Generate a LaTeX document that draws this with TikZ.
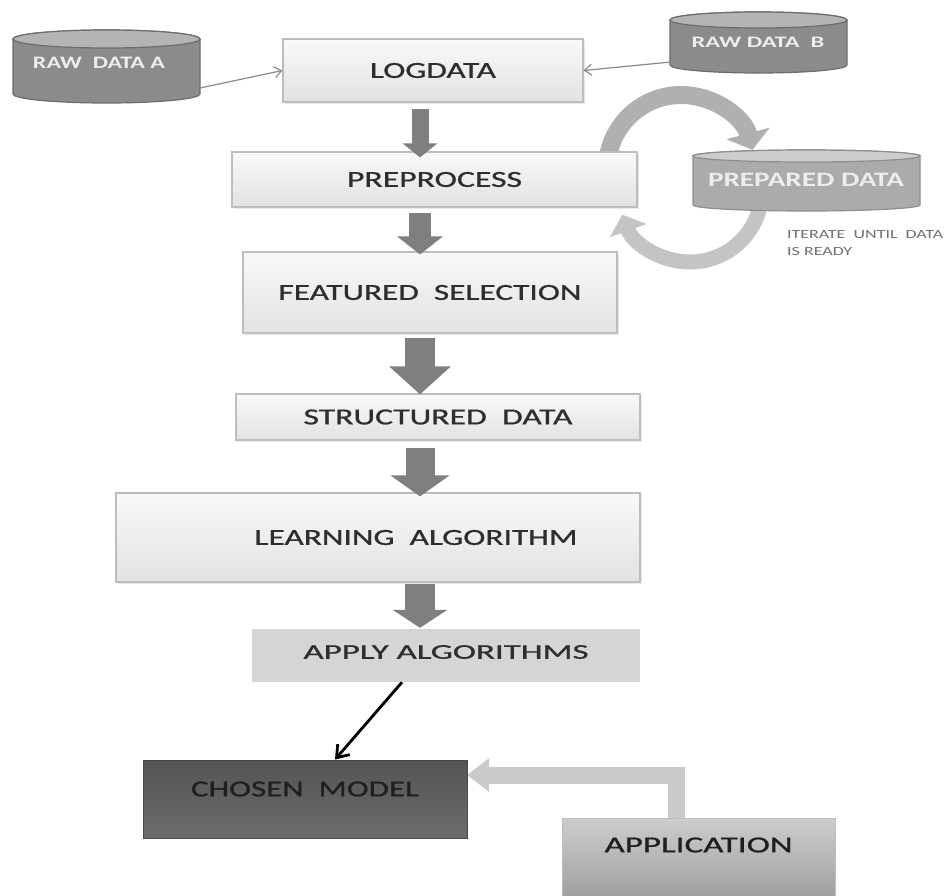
\documentclass[tikz,border=0pt]{standalone}
\usepackage{fontspec}
\setmainfont{Carlito}
\newfontfamily\heavyfont[FakeBold=0.7]{Carlito}
\usepackage{graphicx}
\usetikzlibrary{arrows.meta,shadows}

\definecolor{boxline}{HTML}{BDBDBD}
\definecolor{boxtop}{HTML}{F9F9F9}
\definecolor{boxbot}{HTML}{E2E2E2}
\definecolor{txtdark}{HTML}{2E2E2E}
\definecolor{blockgray}{HTML}{7F7F7F}
\definecolor{rawbody}{HTML}{8B8B8B}
\definecolor{rawtop}{HTML}{B4B4B4}
\definecolor{rawline}{HTML}{6C6C6C}
\definecolor{prepbody}{HTML}{ABABAB}
\definecolor{preptop}{HTML}{CDCDCD}
\definecolor{prepline}{HTML}{8E8E8E}
\definecolor{loopdark}{HTML}{B0B0B0}
\definecolor{looplight}{HTML}{C4C4C4}
\definecolor{applyfill}{HTML}{D5D5D5}
\definecolor{chosentop}{HTML}{545454}
\definecolor{chosenbot}{HTML}{6C6C6C}
\definecolor{chosenline}{HTML}{4A4A4A}
\definecolor{apptop}{HTML}{CDCDCD}
\definecolor{appbot}{HTML}{9B9B9B}
\definecolor{useline}{HTML}{CACACA}
\definecolor{thinline}{HTML}{8A8A8A}
\definecolor{itertext}{HTML}{707070}
\definecolor{cyltext}{HTML}{EDEDED}

% set a text to a given width, keeping its height
\newcommand\fitw[2]{\resizebox{#1pt}{\height}{#2}}
% move a text up without changing its box
\newcommand\lift[2]{\raisebox{#1pt}[\height][\depth]{#2}}
% cylinder: left, right, top, bottom, end radius, body, end, outline
\newcommand\drum[8]{%
  \path[draw=#8, fill=#6, line width=1.2pt]
    (#1,#3+#5) -- (#1,#4-#5)
    arc[start angle=180, end angle=0, x radius={(#2-#1)/2}, y radius=#5]
    -- (#2,#3+#5)
    arc[start angle=0, end angle=-180, x radius={(#2-#1)/2}, y radius=#5]
    -- cycle;
  \path[draw=#8, fill=#7, line width=1.2pt]
    ({(#1+#2)/2},#3+#5) ellipse[x radius={(#2-#1)/2}, y radius=#5];
}

\begin{document}
\begin{tikzpicture}[x=1pt,y=-1pt,
  lightbox/.style={draw=boxline, line width=1.2pt, top color=boxtop,
    bottom color=boxbot, inner sep=0pt, text=txtdark,
    font=\heavyfont\fontsize{23}{27}\selectfont,
    drop shadow={shadow xshift=1.5pt, shadow yshift=-1.5pt, opacity=0.18}},
  flatbox/.style={fill=applyfill, inner sep=0pt, text=txtdark,
    font=\heavyfont\fontsize{21}{25}\selectfont},
  darkbox/.style={draw=chosenline, line width=1pt, top color=chosentop,
    bottom color=chosenbot, inner sep=0pt, text=black!88,
    font=\heavyfont\fontsize{23}{27}\selectfont},
  midbox/.style={draw=boxline, line width=1pt, top color=apptop,
    bottom color=appbot, inner sep=0pt, text=black!88,
    font=\heavyfont\fontsize{23}{27}\selectfont},
  cyllabel/.style={inner sep=0pt, text=cyltext, font=\bfseries},
  flowarrow/.style args={#1/#2/#3}{draw=blockgray, line width=#1,
    -{Triangle[width=#2, length=#3]}},
  thinarrow/.style={draw=thinline, line width=1.2pt,
    -{Straight Barb[length=7pt, width=11pt]}},
  loopband/.style={line width=#1},
]
\clip (0,0) rectangle (948,895);
\fill[white] (0,0) rectangle (948,895);

% refinement loop between PREPROCESS and PREPARED DATA
\coordinate (loopA) at (607,169);
\coordinate (loopB) at (762,190);
\draw[loopband=18pt, draw=loopdark, -{Triangle[length=17pt, width=44pt]}]
  (loopA) arc[start angle=180, end angle=345, radius=74];
\draw[loopband=15pt, draw=looplight, -{Triangle[length=17pt, width=38pt]}]
  (loopB) arc[start angle=0, end angle=160, radius=72];

% data stores
\drum{13}{200}{30}{103}{9}{rawbody}{rawtop}{rawline}
\drum{670}{847}{12}{73}{8}{rawbody}{rawtop}{rawline}
\drum{693}{920}{150}{211}{6}{prepbody}{preptop}{prepline}
\node[cyllabel, font=\bfseries\fontsize{17.5}{20}\selectfont] (rawA) at (99,63)
  {\fitw{132}{RAW~~DATA A}};
\node[cyllabel, font=\bfseries\fontsize{16}{19}\selectfont] (rawB) at (758,42)
  {\fitw{133}{RAW DATA~~B}};
\node[cyllabel, font=\bfseries\fontsize{20.5}{24}\selectfont] (prepared) at (806,180)
  {\fitw{196}{PREPARED DATA}};
\coordinate (rawAout) at (200,88);
\coordinate (rawBout) at (671,62);

% application feeds the chosen model (drawn below the boxes)
\coordinate (usebend) at (676,775);

% pipeline boxes
\node[lightbox, minimum width=300pt, minimum height=63pt] (logdata) at (433,70.5)
  {\fitw{126}{LOGDATA}};
\node[lightbox, minimum width=405pt, minimum height=55pt] (prep) at (434.5,179.5)
  {\fitw{175}{PREPROCESS}};
\node[lightbox, minimum width=374pt, minimum height=81pt] (feat) at (430,292.5)
  {\fitw{303}{FEATURED~~SELECTION}};
\node[lightbox, minimum width=404pt, minimum height=46pt] (struct) at (438,417)
  {\fitw{269}{STRUCTURED~~DATA}};
\node[lightbox, minimum width=524pt, minimum height=89pt] (learn) at (378,537.5)
  {\hspace*{76pt}\fitw{323}{LEARNING~~ALGORITHM}};
\node[flatbox, minimum width=388pt, minimum height=53pt] (apply) at (446,655.5)
  {\lift{3.5}{\fitw{285}{APPLY ALGORITHMS}}};

\draw[line width=17pt, draw=useline, -{Triangle[length=22pt, width=32pt]}]
  (usebend |- 0,830) |- (467,775);

\node[darkbox, minimum width=324pt, minimum height=78pt] (chosen) at (305,799)
  {\lift{10}{\fitw{228}{CHOSEN~~MODEL}}};
\node[midbox, minimum width=273pt, minimum height=87pt] (app) at (698.5,861.5)
  {\lift{16.5}{\fitw{188}{APPLICATION}}};

% block arrows down the pipeline
\coordinate (spine) at (420,0);
\draw[flowarrow={17pt/34pt/14pt}, shorten <=6pt, shorten >=-6pt]
  (logdata.south -| spine) -- (prep.north -| spine);
\draw[flowarrow={22pt/45pt/18pt}, shorten <=5pt, shorten >=-3pt]
  (prep.south -| spine) -- (feat.north -| spine);
\draw[flowarrow={30pt/60pt/28pt}, shorten <=4pt, shorten >=-1pt]
  (feat.south -| spine) -- (struct.north -| spine);
\draw[flowarrow={29pt/58pt/21pt}, shorten <=7pt, shorten >=-4pt]
  (struct.south -| spine) -- (learn.north -| spine);
\draw[flowarrow={30pt/54pt/18pt}, shorten <=1pt, shorten >=1pt]
  (learn.south -| spine) -- (apply.north -| spine);

% raw data into the log
\draw[thinarrow] (rawAout) -- (logdata.west);
\draw[thinarrow] (rawBout) -- (logdata.east);

% algorithms yield the chosen model
\coordinate (pickfrom) at (402,0);
\coordinate (pickto) at (335,0);
\draw[line width=2.8pt, -{Straight Barb[length=11pt, width=16pt]}]
  (apply.south -| pickfrom) -- (chosen.north -| pickto);

% loop note
\node[anchor=north west, inner sep=0pt, text=itertext, align=left,
  font=\fontsize{12.5}{17}\selectfont] (iterate) at (787,230)
  {\fitw{156}{ITERATE~~UNTIL~~DATA}\\\fitw{65}{IS READY}};
\end{tikzpicture}
\end{document}
